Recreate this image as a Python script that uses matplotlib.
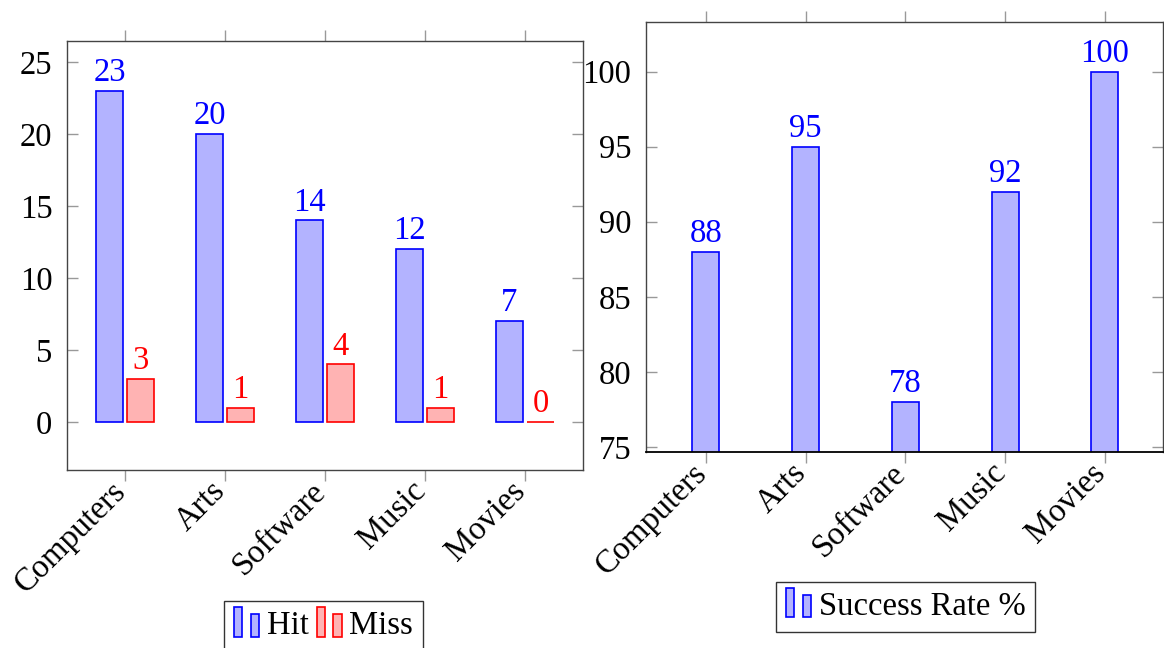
import matplotlib
matplotlib.use('Agg')
import matplotlib.pyplot as plt
import matplotlib.transforms as mtransforms
import numpy as np
from matplotlib.patches import Rectangle
from matplotlib.legend_handler import HandlerBase

categories = ['Computers', 'Arts', 'Software', 'Music', 'Movies']
hit = [23, 20, 14, 12, 7]
miss = [3, 1, 4, 1, 0]
success_rate = [88, 95, 78, 92, 100]

plt.rcParams['font.family'] = ['Liberation Serif', 'DejaVu Serif']
FS = 23.5

BLUE = (0, 0, 1)
BLUE_FILL = (0.7, 0.7, 1.0)
RED = (1, 0, 0)
RED_FILL = (1.0, 0.7, 0.7)


class TwoBarHandler(HandlerBase):
    # pgfplots style ybar legend glyph: two small bars
    def create_artists(self, legend, orig_handle, xdescent, ydescent,
                       width, height, fontsize, trans):
        fc = orig_handle.get_facecolor()
        ec = orig_handle.get_edgecolor()
        w = width * 0.32
        y0 = -ydescent - height * 0.1
        r1 = Rectangle((-xdescent, y0), w, height * 1.3, facecolor=fc,
                       edgecolor=ec, lw=1.2, transform=trans)
        r2 = Rectangle((-xdescent + width * 0.64, y0), w, height * 1.0,
                       facecolor=fc, edgecolor=ec, lw=1.2, transform=trans)
        return [r1, r2]


def style_axes(ax, fig):
    for s in ax.spines.values():
        s.set_color('#444444')
        s.set_linewidth(1.0)
    ax.tick_params(axis='y', which='major', direction='in', length=8,
                   width=1, color='#999999', labelsize=FS, pad=10.5,
                   left=True, right=True)
    ax.tick_params(axis='x', which='major', direction='out', length=8,
                   width=1, color='#999999', labelsize=FS, pad=4,
                   top=True, bottom=True)
    ax.set_xticks(np.arange(len(categories)))
    ax.set_xticklabels(categories, rotation=45, ha='right', va='center',
                       rotation_mode='anchor')
    shift = mtransforms.ScaledTranslation(-4 / 100, 0, fig.dpi_scale_trans)
    for lbl in ax.get_xticklabels():
        lbl.set_transform(lbl.get_transform() + shift)


fig = plt.figure(figsize=(11.64, 6.48), dpi=100)
hmap = {Rectangle: TwoBarHandler()}

# left: hit / miss
ax1 = fig.add_axes([0.0576, 0.2747, 0.4433, 0.662])
x = np.arange(len(categories))
bw = 0.27
b1 = ax1.bar(x - 0.155, hit, bw, color=BLUE_FILL, edgecolor=BLUE, lw=1.2)
b2 = ax1.bar(x + 0.155, miss, bw, color=RED_FILL, edgecolor=RED, lw=1.2)
for xi, v in zip(x - 0.155, hit):
    ax1.annotate(str(v), (xi, v), xytext=(0, 7), textcoords='offset points',
                 ha='center', va='baseline', color=BLUE, fontsize=FS)
for xi, v in zip(x + 0.155, miss):
    ax1.annotate(str(v), (xi, v), xytext=(0, 7), textcoords='offset points',
                 ha='center', va='baseline', color=RED, fontsize=FS)
ax1.set_xlim(-0.58, 4.58)
ax1.set_ylim(-3.33, 26.45)
ax1.set_yticks([0, 5, 10, 15, 20, 25])
style_axes(ax1, fig)

leg1 = fig.legend(handles=[b1.patches[0], b2.patches[0]], labels=['Hit', 'Miss'],
                  ncol=2, loc='upper center', bbox_to_anchor=(0.278, 0.0725),
                  borderaxespad=0, fontsize=FS, frameon=True, fancybox=False,
                  edgecolor='black', handlelength=0.8, handleheight=0.7,
                  handletextpad=0.2, columnspacing=0.25, borderpad=0.3,
                  handler_map=hmap)
leg1.get_frame().set_linewidth(1.0)

# right: success rate
ax2 = fig.add_axes([0.555, 0.3025, 0.444, 0.6636])
b3 = ax2.bar(x, success_rate, bw, color=BLUE_FILL, edgecolor=BLUE, lw=1.2)
for xi, v in zip(x, success_rate):
    ax2.annotate(str(v), (xi, v), xytext=(0, 7), textcoords='offset points',
                 ha='center', va='baseline', color=BLUE, fontsize=FS)
ax2.set_xlim(-0.6, 4.58)
ax2.set_ylim(74.67, 103.3)
ax2.set_yticks([75, 80, 85, 90, 95, 100])
style_axes(ax2, fig)
ax2.spines['bottom'].set_color('black')
ax2.spines['bottom'].set_linewidth(1.3)

leg2 = fig.legend(handles=[b3.patches[0]], labels=['Success Rate %'],
                  loc='upper center', bbox_to_anchor=(0.778, 0.102),
                  borderaxespad=0, fontsize=FS, frameon=True, fancybox=False,
                  edgecolor='black', handlelength=0.8, handleheight=0.7,
                  handletextpad=0.2, borderpad=0.3,
                  handler_map=hmap)
leg2.get_frame().set_linewidth(1.0)

fig.savefig('out.png', dpi=100)
